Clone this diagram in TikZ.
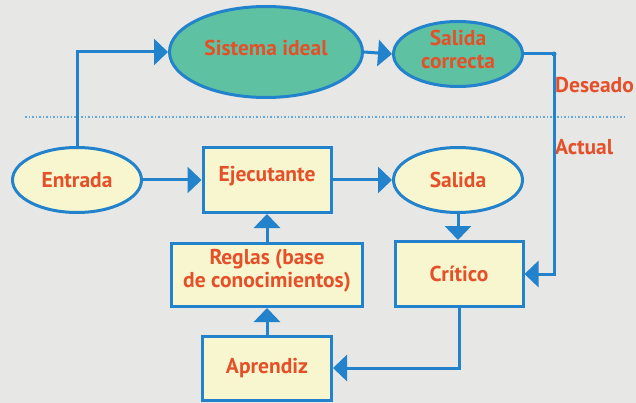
\documentclass[tikz,border=0pt]{standalone}
\usepackage{fontspec}
\setmainfont{PT Sans}
\usetikzlibrary{shapes.geometric,arrows.meta}
\definecolor{bg}{HTML}{E7E7E5}
\definecolor{lineblue}{HTML}{2283CC}
\definecolor{teal}{HTML}{5EC2A2}
\definecolor{pale}{HTML}{F8F6CE}
\definecolor{txt}{HTML}{E4502A}
\tikzset{
  every node/.style={font=\fontsize{21.5}{23}\selectfont\bfseries, text=txt, inner sep=0pt, align=center},
  link/.style={draw=lineblue, line width=3pt},
  arr/.style={link, -{Triangle[length=14pt,width=26pt]}},
  ell/.style={ellipse, draw=lineblue, line width=3pt},
  box/.style={rectangle, draw=lineblue, line width=3pt, fill=pale},
  lbl/.style={anchor=west}
}
\begin{document}
\begin{tikzpicture}[x=1pt,y=-1pt]
\fill[bg] (0,0) rectangle (636,403);
\useasboundingbox (0,0) rectangle (636,403);
% divider
\coordinate (d1) at (25,117);
\coordinate (d2) at (627,117);
\draw[lineblue!70, line width=1.5pt, dotted] (d1) -- (d2);
% nodes
\node[ell, fill=teal, minimum width=193pt, minimum height=91pt] (sis) at (266,52) {};
\node at (266,48) {Sistema ideal};
\node[ell, fill=teal, minimum width=129pt, minimum height=65pt] (sc) at (458,54) {};
\node at (458,49) {Salida\\correcta};
\node[ell, fill=pale, minimum width=129pt, minimum height=65pt] (ent) at (77,180) {Entrada};
\node[box, minimum width=128pt, minimum height=65pt] (eje) at (267,180) {};
\node at (267,176) {Ejecutante};
\node[ell, fill=pale, minimum width=129pt, minimum height=65pt] (sal) at (458,180) {Salida};
\node[box, minimum width=128pt, minimum height=65pt] (cri) at (459,274) {Crítico};
\node[box, minimum width=191pt, minimum height=63pt] (reg) at (267,275) {};
\node at (267,271) {Reglas (base\\de conocimientos)};
\node[box, minimum width=129pt, minimum height=64pt] (apr) at (267,368) {Aprendiz};
\node[lbl] (des) at (555,85) {Deseado};
\node[lbl] (act) at (555,147) {Actual};
\coordinate (c1) at (554,54);
% connectors
\draw[arr] (ent.north) |- (sis.west);
\draw[arr] (sis.east) -- (sc.west);
\draw[arr] (sc.east) -- (c1) |- (cri.east);
\fill[lineblue] (c1) circle (2.5pt);
\draw[arr] (ent.east) -- (eje.west);
\draw[arr] (eje.east) -- (sal.west);
\draw[arr] (sal.south) -- (sal.south |- cri.north);
\draw[arr] (reg.north) -- (eje.south);
\draw[arr] (apr.north) -- (reg.south);
\draw[arr] (cri.south) |- (apr.east);
\end{tikzpicture}
\end{document}
